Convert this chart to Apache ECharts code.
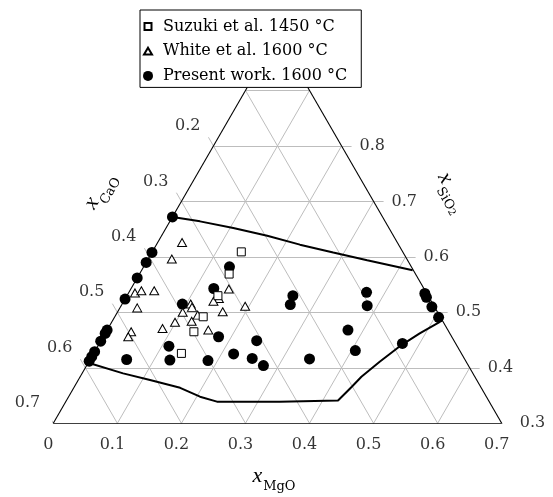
<!DOCTYPE html>
<html>
<head>
<meta charset="utf-8">
<script src="https://cdn.jsdelivr.net/npm/echarts@6.0.0/dist/echarts.min.js"></script>
<style>
  html, body { margin: 0; padding: 0; background: #fff; }
  #chart { width: 553px; height: 497px; }
</style>
</head>
<body>
<div id="chart"></div>
<script>
// Partial CaO–MgO–SiO2 ternary diagram (x_SiO2 from 0.3 to 1).

// Tick values along each side
const mgoTicks  = [0, 0.1, 0.2, 0.3, 0.4, 0.5, 0.6, 0.7];
const caoTicks  = [0.2, 0.3, 0.4, 0.5, 0.6, 0.7];
const sio2Ticks = [0.3, 0.4, 0.5, 0.6, 0.7, 0.8];
const gridLevels = [0.1, 0.2, 0.3, 0.4, 0.5, 0.6];
const sio2GridLevels = [0.4, 0.5, 0.6, 0.7, 0.8, 0.9];

// Suzuki et al., 1450 °C (mole fractions)
const suzukiMgO  = [0.139, 0.140, 0.142, 0.138, 0.137, 0.137];
const suzukiSiO2 = [0.609, 0.569, 0.530, 0.492, 0.465, 0.426];

// White et al., 1600 °C
const whiteMgO  = [0.038, 0.037, 0.010, 0.018, 0.038, 0.027, 0.039, 0.039, 0.085, 0.099, 0.102,
                   0.107, 0.112, 0.124, 0.128, 0.158, 0.164, 0.194, 0.153, 0.146, 0.140];
const whiteSiO2 = [0.626, 0.596, 0.535, 0.539, 0.539, 0.508, 0.465, 0.456, 0.471, 0.482, 0.500,
                   0.515, 0.509, 0.484, 0.495, 0.468, 0.501, 0.511, 0.542, 0.525, 0.520];

// Present work, 1600 °C
const presentMgO  = [0, 0, 0, 0, 0, 0, 0, 0, 0, 0, 0,
                     0.134, 0.129, 0.094, 0.111, 0.125, 0.057, 0.185, 0.180, 0.219, 0.252, 0.243,
                     0.276, 0.259, 0.263, 0.371, 0.384, 0.376, 0.406, 0.342, 0.463, 0.469, 0.486,
                     0.506, 0.473];
const presentSiO2 = [0.672, 0.608, 0.590, 0.562, 0.524, 0.468, 0.462, 0.448, 0.429, 0.420, 0.412,
                     0.582, 0.543, 0.515, 0.439, 0.414, 0.415, 0.413, 0.456, 0.425, 0.417, 0.449,
                     0.404, 0.530, 0.514, 0.536, 0.512, 0.468, 0.431, 0.416, 0.534, 0.527, 0.510,
                     0.491, 0.444];

// Liquidus boundaries of the liquid region
const upperMgO  = [0, 0.047, 0.105, 0.165, 0.224, 0.283, 0.343, 0.383, 0.423];
const upperSiO2 = [0.672, 0.664, 0.652, 0.638, 0.622, 0.608, 0.594, 0.585, 0.576];
const lowerMgO  = [0, 0.064, 0.112, 0.166, 0.205, 0.236, 0.334, 0.424, 0.433, 0.439, 0.454,
                   0.473, 0.491, 0.512];
const lowerSiO2 = [0.409, 0.390, 0.378, 0.364, 0.348, 0.339, 0.339, 0.341, 0.366, 0.384, 0.411,
                   0.441, 0.462, 0.483];

// ---- geometry helpers ----
const SIO2_BASE = 0.3;            // x_SiO2 along the bottom edge
const H = Math.sqrt(3) / 2;
const TICK = 0.0156;              // tick length in plot units
const FONT = '"DejaVu Serif", "Liberation Serif", serif';
const MATH_FONT = '"Liberation Serif", "DejaVu Serif", serif';
const GRID_GRAY = '#bdbdbd';

// (x_MgO, x_SiO2) -> cartesian plot coordinates
function xy(mgo, sio2) {
  return [mgo + 0.5 * (sio2 - SIO2_BASE), (sio2 - SIO2_BASE) * H];
}
function points(mArr, sArr) { return mArr.map((m, i) => xy(m, sArr[i])); }
const r1 = v => Math.round(v * 10) / 10;

// grid lines
const gridSegs = [];
gridLevels.forEach(g => {
  gridSegs.push({ coords: [xy(g, SIO2_BASE), xy(g, r1(1 - g))] });               // constant MgO
  gridSegs.push({ coords: [xy(r1(0.7 - g), SIO2_BASE), xy(0, r1(1 - g))] });     // constant CaO
});
sio2GridLevels.forEach(s => {
  gridSegs.push({ coords: [xy(0, s), xy(r1(1 - s), s)] });                        // constant SiO2
});

// tick marks
const tickSegs = [];
mgoTicks.forEach(v => {
  const p = xy(v, SIO2_BASE);
  tickSegs.push({ coords: [p, [p[0] - 0.5 * TICK, p[1] - H * TICK]] });
});
caoTicks.forEach(c => {
  const p = xy(0, r1(1 - c));
  tickSegs.push({ coords: [p, [p[0] - 0.5 * TICK, p[1] + H * TICK]] });
});
sio2Ticks.forEach(s => {
  const p = xy(r1(1 - s), s);
  tickSegs.push({ coords: [p, [p[0] + TICK, p[1]]] });
});

// triangle outline
const edgeSegs = [
  { coords: [xy(0, SIO2_BASE), xy(0.7, SIO2_BASE)] },
  { coords: [xy(0, SIO2_BASE), xy(0, 1)] },
  { coords: [xy(0.7, SIO2_BASE), xy(0, 1)] }
];

// tick label anchors
const mgoLabels  = mgoTicks.map(v => ({ value: xy(v, SIO2_BASE), name: String(v) }));
const caoLabels  = caoTicks.map(c => ({ value: xy(0, r1(1 - c)), name: String(c) }));
const sio2Labels = sio2Ticks.map(s => ({ value: xy(r1(1 - s), s), name: String(s) }));

function labelSeries(data, align, offset) {
  return {
    type: 'scatter', data, symbolSize: 1, silent: true, z: 6,
    itemStyle: { color: 'rgba(0,0,0,0)' },
    label: {
      show: true, position: 'inside', formatter: '{b}', align, verticalAlign: 'middle',
      offset, color: '#000', fontFamily: FONT, fontSize: 16
    },
    emphasis: { disabled: true }
  };
}

const NAME_SUZUKI = 'Suzuki et al. 1450 °C';
const NAME_WHITE = 'White et al. 1600 °C';
const NAME_PRESENT = 'Present work. 1600 °C';

// legend glyphs: a 10x10 box holding a smaller open square / triangle
const ICON_SQUARE = 'path://M0,0M1.5,1.5L8.5,1.5L8.5,8.5L1.5,8.5ZM10,10';
const ICON_TRIANGLE = 'path://M0,0M5,1.6L9,8.4L1,8.4ZM10,10';

const titleRich = {
  x: { fontFamily: MATH_FONT, fontStyle: 'italic', fontSize: 22, lineHeight: 20, padding: [0, 1, 6, 0], verticalAlign: 'bottom', color: '#000' },
  s: { fontFamily: FONT, fontSize: 13, lineHeight: 14, verticalAlign: 'bottom', color: '#000' },
  t: { fontFamily: FONT, fontSize: 10, lineHeight: 10, verticalAlign: 'bottom', color: '#000' }
};

const chart = echarts.init(document.getElementById('chart'), null, { renderer: 'canvas' });
chart.setOption({
  animation: false,
  backgroundColor: '#fff',
  grid: { left: 53.3, right: 51.3, top: 6.9, bottom: 73.7 },
  xAxis: { type: 'value', min: 0, max: 0.7, show: false },
  yAxis: { type: 'value', min: 0, max: 0.65, show: false },
  legend: {
    orient: 'vertical', left: 140, top: 10,
    data: [
      { name: NAME_SUZUKI, icon: ICON_SQUARE },
      { name: NAME_WHITE, icon: ICON_TRIANGLE },
      { name: NAME_PRESENT, icon: 'circle' }
    ],
    itemWidth: 10, itemHeight: 10, itemGap: 1.7,
    padding: [5, 14, 0, 2],
    backgroundColor: '#fff', borderColor: '#000', borderWidth: 1, borderRadius: 0,
    textStyle: { fontFamily: FONT, fontSize: 16, lineHeight: 23, color: '#000', padding: [0, 0, 0, 5] },
    selectedMode: false
  },
  graphic: [
    { type: 'text', x: 105, y: 194, rotation: Math.PI / 3, z: 10,
      style: { text: '{x|x}{s|CaO}', rich: titleRich, align: 'center', verticalAlign: 'middle' } },
    { type: 'text', x: 447, y: 195, rotation: -Math.PI / 3, z: 10,
      style: { text: '{x|x}{s|SiO}{t|2}', rich: titleRich, align: 'center', verticalAlign: 'middle' } },
    { type: 'text', x: 274, y: 483, z: 10,
      style: { text: '{x|x}{s|MgO}', rich: titleRich, align: 'center', verticalAlign: 'middle' } }
  ],
  series: [
    { type: 'lines', coordinateSystem: 'cartesian2d', data: gridSegs, silent: true, z: 1,
      lineStyle: { color: GRID_GRAY, width: 1, opacity: 1, curveness: 0 } },
    { type: 'lines', coordinateSystem: 'cartesian2d', data: tickSegs, silent: true, z: 1,
      lineStyle: { color: GRID_GRAY, width: 1, opacity: 1, curveness: 0 } },
    { type: 'lines', coordinateSystem: 'cartesian2d', data: edgeSegs, silent: true, z: 2,
      lineStyle: { color: '#000', width: 1.1, opacity: 1, curveness: 0 } },
    { type: 'line', data: points(upperMgO, upperSiO2), symbol: 'none', silent: true, z: 3,
      lineStyle: { color: '#000', width: 2 } },
    { type: 'line', data: points(lowerMgO, lowerSiO2), symbol: 'none', silent: true, z: 3,
      lineStyle: { color: '#000', width: 2 } },
    { name: NAME_PRESENT, type: 'scatter', data: points(presentMgO, presentSiO2), z: 4,
      symbol: 'circle', symbolSize: 11, itemStyle: { color: '#000', opacity: 1 },
      emphasis: { disabled: true } },
    { name: NAME_WHITE, type: 'scatter', data: points(whiteMgO, whiteSiO2), z: 5,
      symbol: 'triangle', symbolSize: [9, 8],
      itemStyle: { color: '#fff', borderColor: '#000', borderWidth: 1, opacity: 1 },
      emphasis: { disabled: true } },
    { name: NAME_SUZUKI, type: 'scatter', data: points(suzukiMgO, suzukiSiO2), z: 5,
      symbol: 'rect', symbolSize: 8,
      itemStyle: { color: '#fff', borderColor: '#000', borderWidth: 1, opacity: 1 },
      emphasis: { disabled: true } },
    labelSeries(mgoLabels, 'center', [-5, 22]),
    labelSeries(caoLabels, 'right', [-13, -20]),
    labelSeries(sio2Labels, 'left', [18, 0])
  ]
});
</script>
</body>
</html>
